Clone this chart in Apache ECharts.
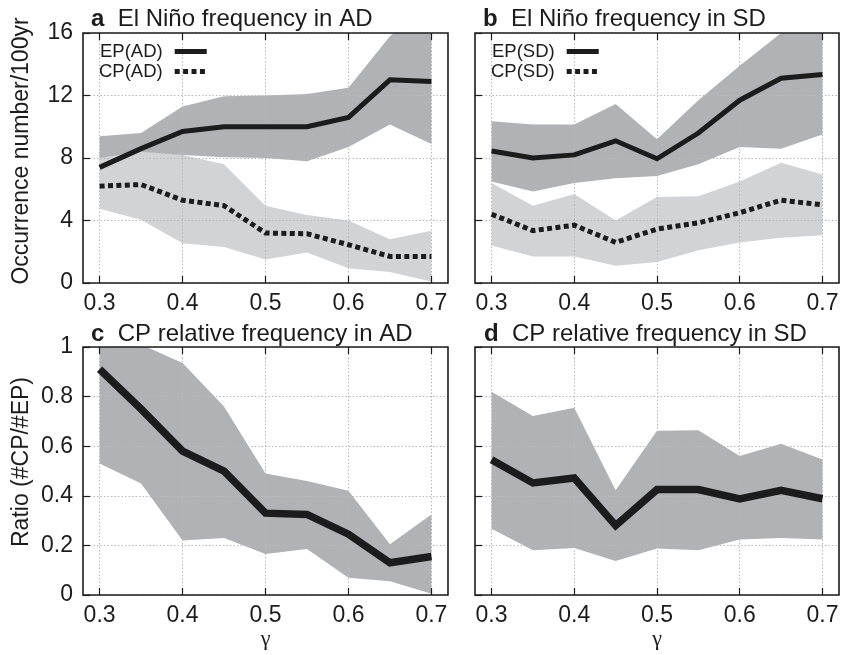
<!DOCTYPE html>
<html>
<head>
<meta charset="utf-8">
<script src="https://cdn.jsdelivr.net/npm/echarts@6/dist/echarts.min.js"></script>
<style>
html,body{margin:0;padding:0;background:#fff;}
#chart{width:844px;height:655px;}
</style>
</head>
<body>
<div id="chart"></div>
<script>
// ---- data ----
const gammaValues = [0.3, 0.35, 0.4, 0.45, 0.5, 0.55, 0.6, 0.65, 0.7];
const gammaTicks = [0.3, 0.4, 0.5, 0.6, 0.7];
const countTicks = [0, 4, 8, 12, 16];
const ratioTicks = [0, 0.2, 0.4, 0.6, 0.8, 1];

// panel a: AD
const epAD      = [7.4, 8.6, 9.7, 10.0, 10.0, 10.0, 10.6, 13.0, 12.9];
const epADUpper = [9.4, 9.6, 11.3, 11.95, 12.0, 12.1, 12.5, 15.8, 18.0];
const epADLower = [8.0, 8.4, 8.2, 8.05, 8.0, 7.8, 8.7, 10.15, 8.9];
const cpAD      = [6.2, 6.3, 5.3, 4.95, 3.2, 3.15, 2.45, 1.7, 1.7];
const cpADUpper = [8.3, 8.6, 8.2, 7.6, 4.95, 4.35, 4.0, 2.8, 3.35];
const cpADLower = [4.75, 4.05, 2.55, 2.3, 1.5, 1.95, 0.95, 0.7, 0.1];

// panel b: SD
const epSD      = [8.45, 8.0, 8.2, 9.1, 7.95, 9.6, 11.7, 13.1, 13.35];
const epSDUpper = [10.35, 10.15, 10.15, 11.45, 9.2, 11.7, 13.9, 16.0, 17.5];
const epSDLower = [6.5, 5.85, 6.4, 6.7, 6.85, 7.6, 8.7, 8.6, 9.5];
const cpSD      = [4.4, 3.35, 3.7, 2.6, 3.45, 3.85, 4.5, 5.3, 5.0];
const cpSDUpper = [6.4, 4.95, 5.7, 4.0, 5.5, 5.55, 6.5, 7.7, 6.95];
const cpSDLower = [2.4, 1.7, 1.7, 1.1, 1.35, 2.1, 2.6, 2.9, 3.05];

// panel c: ratio AD
const ratioAD      = [0.91, 0.75, 0.58, 0.50, 0.33, 0.325, 0.245, 0.13, 0.155];
const ratioADUpper = [1.1, 1.01, 0.935, 0.76, 0.49, 0.46, 0.42, 0.205, 0.325];
const ratioADLower = [0.53, 0.45, 0.22, 0.23, 0.165, 0.185, 0.07, 0.055, 0.005];

// panel d: ratio SD
const ratioSD      = [0.545, 0.452, 0.472, 0.28, 0.425, 0.425, 0.387, 0.422, 0.388];
const ratioSDUpper = [0.82, 0.722, 0.755, 0.422, 0.662, 0.664, 0.56, 0.61, 0.546];
const ratioSDLower = [0.267, 0.18, 0.19, 0.137, 0.187, 0.18, 0.224, 0.23, 0.224];

// ---- styles ----
const FONT = 'Liberation Sans, Arial, Helvetica, sans-serif';
const INK = '#1c1c1c';
const DARK = '#b1b2b6';
const LIGHT = '#d2d3d5';
const GRIDLINE = '#b8b8b8';

const grids = [
  {left: 83, top: 33, width: 365, height: 250},
  {left: 475, top: 33, width: 364, height: 250},
  {left: 83, top: 347, width: 365, height: 248},
  {left: 475, top: 347, width: 364, height: 248}
];

const pairs = (ys) => gammaValues.map((g, i) => [g, ys[i]]);

const xAxes = [];
const yAxes = [];
grids.forEach((g, i) => {
  xAxes.push({
    type: 'value', gridIndex: i, min: 0.28, max: 0.72, position: 'bottom', z: 2,
    axisLine: {show: false},
    axisTick: {inside: true, length: 7, lineStyle: {color: INK, width: 1.2}, customValues: gammaTicks},
    axisLabel: {customValues: gammaTicks, fontSize: 23, fontFamily: FONT, color: INK, margin: 9},
    splitLine: {show: true, lineStyle: {color: GRIDLINE, type: [1.5, 2], width: 1}},
    name: i >= 2 ? 'γ' : '', nameLocation: 'middle', nameGap: 32,
    nameTextStyle: {fontSize: 22, fontFamily: 'Liberation Serif, DejaVu Serif, serif', color: INK}
  });
  xAxes.push({
    type: 'value', gridIndex: i, min: 0.28, max: 0.72, position: 'top', z: 2,
    axisLine: {show: false},
    axisTick: {inside: true, length: 7, lineStyle: {color: INK, width: 1.2}, customValues: gammaTicks},
    axisLabel: {show: false},
    splitLine: {show: false}
  });
  const isCount = i < 2;
  yAxes.push({
    type: 'value', gridIndex: i, z: 2,
    min: 0, max: isCount ? 16 : 1, interval: isCount ? 4 : 0.2,
    axisLine: {show: false},
    axisTick: {inside: true, length: 7, lineStyle: {color: INK, width: 1.2}},
    axisLabel: {show: i % 2 === 0, fontSize: 23, fontFamily: FONT, color: INK, margin: 10},
    splitLine: {show: true, lineStyle: {color: GRIDLINE, type: [1.5, 2], width: 1}}
  });
});

// shaded range drawn as one polygon through the axis scales
function band(name, grid, up, lo, color) {
  const rows = gammaValues.map((g, i) => [g, lo[i], up[i]]);
  return {
    type: 'custom', name: name, xAxisIndex: grid * 2, yAxisIndex: grid,
    data: rows, encode: {x: 0, y: [1, 2]}, z: 1, silent: true, clip: true,
    renderItem: function (params, api) {
      if (params.dataIndex !== 0) return null;
      const top = rows.map(r => api.coord([r[0], r[2]]));
      const bottom = rows.map(r => api.coord([r[0], r[1]])).reverse();
      return {
        type: 'polygon',
        shape: {points: top.concat(bottom)},
        style: {fill: color, stroke: null}
      };
    }
  };
}
function curve(name, grid, ys, width, dashed) {
  return {
    type: 'line', name: name, xAxisIndex: grid * 2, yAxisIndex: grid,
    data: pairs(ys), symbol: 'none', z: 3,
    lineStyle: {color: INK, width: width, type: dashed ? [5, 3.4] : 'solid', cap: 'butt', join: 'miter'},
    itemStyle: {color: INK}
  };
}

const series = [
  band('cpADband', 0, cpADUpper, cpADLower, LIGHT),
  band('epADband', 0, epADUpper, epADLower, DARK),
  curve('EP(AD)', 0, epAD, 5, false), curve('CP(AD)', 0, cpAD, 5, true),
  band('cpSDband', 1, cpSDUpper, cpSDLower, LIGHT),
  band('epSDband', 1, epSDUpper, epSDLower, DARK),
  curve('EP(SD)', 1, epSD, 5, false), curve('CP(SD)', 1, cpSD, 5, true),
  band('ratioADband', 2, ratioADUpper, ratioADLower, DARK),
  curve('ratioAD', 2, ratioAD, 7.5, false),
  band('ratioSDband', 3, ratioSDUpper, ratioSDLower, DARK),
  curve('ratioSD', 3, ratioSD, 7.5, false)
];

const titleTexts = [
  ['a', 'El Niño frequency in AD', 91, 7],
  ['b', 'El Niño frequency in SD', 483, 7],
  ['c', 'CP relative frequency in AD', 91, 322],
  ['d', 'CP relative frequency in SD', 484, 322]
];
const titles = titleTexts.map(t => ({
  text: '{b|' + t[0] + '}  ' + t[1],
  left: t[2], top: t[3], padding: 0,
  textStyle: {
    fontSize: 24, fontFamily: FONT, fontWeight: 'normal', color: INK,
    rich: {b: {fontSize: 24, fontFamily: FONT, fontWeight: 'bold', color: INK}}
  }
}));

const legendBase = {
  orient: 'vertical', align: 'right', itemWidth: 32, itemHeight: 14, itemGap: 1,
  padding: 0, selectedMode: false,
  itemStyle: {opacity: 0},
  lineStyle: {width: 5},
  textStyle: {fontSize: 18.5, fontFamily: FONT, color: INK, padding: [0, 7, 0, 0]}
};

const option = {
  animation: false,
  backgroundColor: '#fff',
  title: titles,
  legend: [
    Object.assign({}, legendBase, {data: ['EP(AD)', 'CP(AD)'], left: 99, top: 42}),
    Object.assign({}, legendBase, {data: ['EP(SD)', 'CP(SD)'], left: 491, top: 42})
  ],
  grid: grids.map(g => Object.assign({show: true, borderColor: INK, borderWidth: 1.6, backgroundColor: 'transparent', z: 4}, g)),
  xAxis: xAxes,
  yAxis: yAxes,
  series: series,
  graphic: [
    {type: 'text', x: 22, y: 151, rotation: Math.PI / 2,
     style: {text: 'Occurrence number/100yr', fontSize: 23, fontFamily: FONT, fill: INK, align: 'center', verticalAlign: 'middle'}},
    {type: 'text', x: 22, y: 462, rotation: Math.PI / 2,
     style: {text: 'Ratio (#CP/#EP)', fontSize: 23, fontFamily: FONT, fill: INK, align: 'center', verticalAlign: 'middle'}}
  ]
};

const chart = echarts.init(document.getElementById('chart'), null, {renderer: 'canvas'});
chart.setOption(option);
</script>
</body>
</html>
